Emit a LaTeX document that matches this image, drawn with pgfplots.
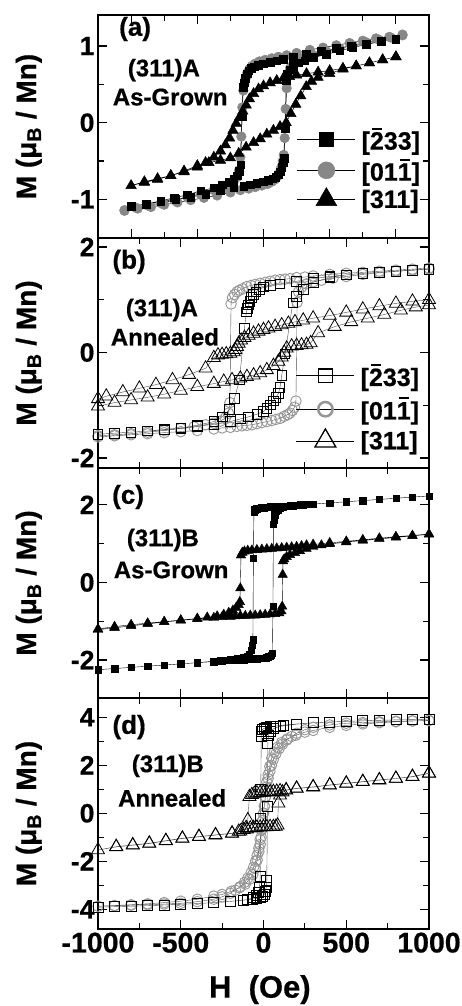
\documentclass[border=0pt]{standalone}
\usepackage{pgfplots}
\pgfplotsset{compat=1.18}
\usepackage{fontspec}
\setmainfont{Liberation Sans}[BoldFeatures={FakeBold=0.6}]
\newcommand\fs[1]{\fontsize{#1}{#1}\selectfont\bfseries}
\newcommand\ob[1]{\setbox0\hbox{#1}\rlap{\hbox to \wd0{\hfil\raisebox{0.80em}{\rule{0.40em}{0.08em}}\hfil}}#1}
\definecolor{cg}{RGB}{135,135,135}
\definecolor{cgo}{RGB}{150,150,150}
\pgfplotsset{
 panel/.style={
  scale only axis, width=331pt,
  xmin=-1000, xmax=1000,
  axis line style={line width=1.1pt},
  tick style={line width=1.1pt, black},
  major tick length=9pt, minor tick length=6pt,
  tick align=inside,
  yticklabel style={font=\fs{26.5}},
  xticklabel style={font=\fs{28.5}},
  ylabel={M (μ\textsubscript{B} / Mn)},
  every axis y label/.style={at={(axis description cs:-0.169,0.5)}, anchor=south, rotate=90, inner sep=0pt, font=\fs{28}},
  legend image code/.code={\draw[##1,mark=none] (0pt,0pt) -- (58pt,0pt); \draw[##1] plot coordinates {(29pt,0pt)};},
  legend style={draw=none, fill=none, inner sep=0pt, nodes={inner sep=2pt}, row sep=3.5pt, column sep=4pt, font=\fs{25}},
  legend cell align=left,
 },
 bx/.style={xtick={-1000,-500,0,500,1000}, minor xtick={-750,-250,250,750}},
}
\begin{document}
\begin{tikzpicture}
\path[use as bounding box] (-98pt,15pt) rectangle (363pt,-991pt);
% ---------------- (a)
\begin{axis}[panel, name=pa, at={(0pt,0pt)}, anchor=north west, height=223pt,
  ymin=-1.504, ymax=1.405, ytick={-1,0,1}, yticklabels={-1,0,1}, minor ytick={-0.5,0.5},
  xtick={-800,-400,0,400,800}, minor xtick={-600,-200,200,600}, xticklabels={},
  legend style={at={(rel axis cs:0.601,0.505)}, anchor=north west}]
\addplot[black, line width=0.5pt, mark=*, mark size=4.8pt, mark options={fill=cg, draw=cg}, forget plot] coordinates {
(840,1.15) (760,1.12) (680,1.10) (600,1.07) (520,1.04) (440,1.01) (360,0.98) (280,0.95) (200,0.91) (140,0.88) (90,0.86) (50,0.84) (10,0.82) (-25,0.80) (-50,0.77) (-70,0.74) (-85,0.70) (-98,0.65) (-108,0.58) (-116,0.50) (-122,0.42) (-128,0.20) (-134,-0.18) (-140,-0.45) (-148,-0.62) (-160,-0.71) (-180,-0.77) (-210,-0.81) (-250,-0.85) (-300,-0.88) (-380,-0.93) (-460,-0.97) (-540,-1.01) (-620,-1.05) (-700,-1.08) (-770,-1.11) (-840,-1.14)
(-840,-1.15) (-760,-1.12) (-680,-1.10) (-600,-1.07) (-520,-1.04) (-440,-1.01) (-360,-0.98) (-280,-0.95) (-200,-0.91) (-140,-0.88) (-90,-0.86) (-50,-0.84) (-10,-0.82) (25,-0.80) (50,-0.77) (70,-0.74) (85,-0.70) (98,-0.65) (108,-0.58) (116,-0.50) (122,-0.42) (128,-0.20) (134,0.18) (140,0.45) (148,0.62) (160,0.71) (180,0.77) (210,0.81) (250,0.85) (300,0.88) (380,0.93) (460,0.97) (540,1.01) (620,1.05) (700,1.08) (770,1.11) (840,1.14)};
\addplot[black, line width=0.5pt, mark=square*, mark size=3.8pt, forget plot] coordinates {
(800,1.09) (710,1.06) (620,1.03) (530,1.00) (440,0.97) (350,0.93) (260,0.89) (180,0.85) (120,0.83) (80,0.81) (40,0.79) (0,0.77) (-30,0.75) (-55,0.73) (-75,0.71) (-90,0.68) (-100,0.64) (-110,0.58) (-118,0.52) (-124,0.46) (-130,0.08) (-138,-0.55) (-145,-0.63) (-160,-0.69) (-180,-0.74) (-210,-0.78) (-250,-0.81) (-300,-0.85) (-380,-0.89) (-460,-0.94) (-540,-0.98) (-620,-1.02) (-710,-1.06) (-800,-1.09)
(-800,-1.09) (-710,-1.06) (-620,-1.03) (-530,-1.00) (-440,-0.97) (-350,-0.93) (-260,-0.89) (-180,-0.85) (-120,-0.83) (-80,-0.81) (-40,-0.79) (0,-0.77) (30,-0.75) (55,-0.73) (75,-0.71) (90,-0.68) (100,-0.64) (110,-0.58) (118,-0.52) (124,-0.46) (130,-0.08) (138,0.55) (145,0.63) (160,0.69) (180,0.74) (210,0.78) (250,0.81) (300,0.85) (380,0.89) (460,0.94) (540,0.98) (620,1.02) (710,1.06) (800,1.09)};
\addplot[black, line width=0.5pt, mark=triangle*, mark size=6pt, forget plot] coordinates {
(800,0.86) (720,0.82) (640,0.78) (560,0.74) (480,0.71) (400,0.68) (330,0.66) (260,0.64) (200,0.62) (157,0.60) (120,0.58) (80,0.55) (40,0.52) (0,0.48) (-30,0.44) (-60,0.38) (-85,0.31) (-105,0.23) (-125,0.15) (-145,0.07) (-165,-0.01) (-185,-0.10) (-205,-0.20) (-230,-0.29) (-260,-0.37) (-300,-0.45) (-350,-0.52) (-400,-0.58) (-480,-0.64) (-560,-0.69) (-640,-0.73) (-720,-0.77) (-800,-0.82)
(-720,-0.78) (-640,-0.74) (-560,-0.69) (-480,-0.63) (-400,-0.56) (-330,-0.52) (-260,-0.49) (-200,-0.46) (-150,-0.40) (-105,-0.32) (-60,-0.26) (-20,-0.21) (20,-0.15) (60,-0.10) (100,-0.05) (137,0.0) (165,0.12) (195,0.24) (225,0.35) (258,0.47) (290,0.54) (330,0.59) (400,0.64) (480,0.70) (560,0.74) (640,0.78) (720,0.82) (800,0.86)};
\addlegendimage{black, line width=0.5pt, mark=square*, mark size=6.8pt}
\addlegendentry{[\ob{2}33]}
\addlegendimage{black, line width=0.5pt, mark=*, mark size=8.5pt, mark options={fill=cg, draw=cg}}
\addlegendentry{[01\ob{1}]}
\addlegendimage{black, line width=0.5pt, mark=triangle*, mark size=12pt}
\addlegendentry{[311]}
\node[font=\fs{26}] at (rel axis cs:0.112,0.937) {(a)};
\node[font=\fs{24}] at (rel axis cs:0.199,0.753) {(311)A};
\node[font=\fs{24}] at (rel axis cs:0.218,0.632) {As-Grown};
\end{axis}
% ---------------- (b)
\begin{axis}[panel, bx, name=pb, at={(pa.south west)}, anchor=north west, height=230pt,
  ymin=-2.19, ymax=2.17, ytick={-2,0,2}, yticklabels={-2,0,2}, minor ytick={-1,1}, xticklabels={},
  legend style={at={(rel axis cs:0.598,0.462)}, anchor=north west, row sep=6pt}]
\addplot[black!70, line width=0.4pt, mark=o, mark size=5.3pt, mark options={draw=cgo, line width=0.9pt}, forget plot] coordinates {
(1000,1.60) (900,1.58) (800,1.56) (700,1.54) (600,1.52) (500,1.50) (400,1.48) (300,1.45) (250,1.43) (200,1.42) (160,1.40) (130,1.39) (100,1.38) (70,1.37) (40,1.35) (10,1.33) (-20,1.31) (-50,1.29) (-75,1.27) (-100,1.25) (-125,1.21) (-145,1.18) (-160,1.15) (-175,1.10) (-187,1.04) (-196,0.92) (-203,-0.95) (-212,-1.15) (-230,-1.24) (-260,-1.30) (-300,-1.34) (-350,-1.37) (-420,-1.41) (-500,-1.44) (-600,-1.48) (-700,-1.51) (-800,-1.54) (-900,-1.56) (-1000,-1.58)
(-1000,-1.60) (-900,-1.58) (-800,-1.56) (-700,-1.54) (-600,-1.52) (-500,-1.50) (-400,-1.48) (-300,-1.45) (-250,-1.43) (-200,-1.42) (-160,-1.40) (-130,-1.39) (-100,-1.38) (-70,-1.37) (-40,-1.35) (-10,-1.33) (20,-1.31) (50,-1.29) (75,-1.27) (100,-1.25) (125,-1.21) (145,-1.18) (160,-1.15) (175,-1.10) (187,-1.04) (196,-0.92) (203,0.95) (212,1.15) (230,1.24) (260,1.30) (300,1.34) (350,1.37) (420,1.41) (500,1.44) (600,1.48) (700,1.51) (800,1.54) (900,1.56) (1000,1.58)};
\addplot[black!70, line width=0.4pt, mark=square, mark size=4.8pt, mark options={draw=black, line width=0.8pt}, forget plot] coordinates {
(1000,1.58) (900,1.56) (800,1.54) (700,1.52) (600,1.50) (500,1.47) (400,1.44) (300,1.40) (200,1.35) (100,1.30) (40,1.27) (0,1.24) (-25,1.20) (-45,1.15) (-60,1.10) (-72,1.04) (-82,0.97) (-90,0.90) (-97,0.83) (-103,0.77) (-115,0.46) (-145,-0.52) (-175,-0.87) (-205,-1.08) (-250,-1.22) (-300,-1.31) (-400,-1.38) (-500,-1.43) (-600,-1.46) (-700,-1.49) (-800,-1.51) (-900,-1.53) (-1000,-1.55)
(-900,-1.53) (-800,-1.51) (-700,-1.49) (-600,-1.47) (-500,-1.44) (-400,-1.40) (-300,-1.36) (-200,-1.31) (-140,-1.26) (-90,-1.22) (-40,-1.17) (0,-1.12) (20,-1.06) (40,-0.99) (60,-0.92) (75,-0.85) (90,-0.78) (100,-0.66) (110,-0.44) (130,-0.03) (177,0.94) (198,1.06) (240,1.20) (300,1.33) (400,1.42) (500,1.47) (600,1.50) (700,1.52) (800,1.54) (900,1.56) (1000,1.58)};
\addplot[black!70, line width=0.4pt, mark=triangle, mark size=7.5pt, mark options={draw=black, line width=0.8pt}, forget plot] coordinates {
(1000,1.00) (900,0.97) (800,0.93) (700,0.88) (600,0.82) (500,0.76) (400,0.70) (300,0.65) (240,0.61) (190,0.58) (150,0.55) (110,0.52) (70,0.49) (30,0.46) (0,0.43) (-30,0.40) (-60,0.36) (-90,0.32) (-115,0.28) (-135,0.23) (-150,0.17) (-160,0.11) (-170,0.05) (-180,0.01) (-200,-0.02) (-225,-0.03) (-250,-0.04) (-275,-0.05) (-300,-0.10) (-350,-0.30) (-450,-0.42) (-550,-0.52) (-650,-0.61) (-750,-0.68) (-850,-0.75) (-950,-0.83) (-1000,-0.88)
(-1000,-1.02) (-900,-0.95) (-800,-0.90) (-700,-0.85) (-600,-0.79) (-500,-0.72) (-400,-0.65) (-300,-0.59) (-240,-0.55) (-190,-0.52) (-140,-0.49) (-100,-0.46) (-60,-0.43) (-20,-0.39) (20,-0.33) (60,-0.25) (90,-0.17) (110,-0.09) (125,0.0) (140,0.08) (170,0.12) (200,0.13) (230,0.14) (260,0.15) (285,0.18) (330,0.37) (430,0.49) (530,0.58) (630,0.65) (730,0.72) (830,0.80) (920,0.86) (1000,0.90)};
\addlegendimage{black, line width=0.5pt, mark=square, mark size=6.8pt, mark options={line width=1.3pt}}
\addlegendentry{[\ob{2}33]}
\addlegendimage{black, line width=0.5pt, mark=o, mark size=7.2pt, mark options={draw=cgo, line width=2.5pt}}
\addlegendentry{[01\ob{1}]}
\addlegendimage{black, line width=0.5pt, mark=triangle, mark size=12pt, mark options={line width=1.3pt}}
\addlegendentry{[311]}
\node[font=\fs{26}] at (rel axis cs:0.094,0.896) {(b)};
\node[font=\fs{24}] at (rel axis cs:0.193,0.687) {(311)A};
\node[font=\fs{24}] at (rel axis cs:0.202,0.570) {Annealed};
\end{axis}
% ---------------- (c)
\begin{axis}[panel, bx, name=pc, at={(pb.south west)}, anchor=north west, height=230pt,
  ymin=-2.98, ymax=2.95, ytick={-2,0,2}, yticklabels={-2,0,2}, minor ytick={-1,1}, xticklabels={}]
\addplot[black, line width=0.4pt, mark=square*, mark size=3.2pt, forget plot] coordinates {
(1000,2.23) (900,2.20) (800,2.17) (700,2.14) (600,2.11) (500,2.08) (400,2.05) (300,2.02) (270,2.01) (240,2.00) (220,1.99) (200,1.99) (180,1.98) (160,1.98) (140,1.97) (120,1.97) (100,1.96) (80,1.96) (60,1.95) (40,1.95) (20,1.94) (0,1.93) (-15,1.93) (-30,1.92) (-42,1.90) (-52,1.87) (-58,1.82) (-61,0.63) (-64,-1.48) (-68,-1.62) (-75,-1.75) (-85,-1.85) (-100,-1.91) (-120,-1.94) (-140,-1.96) (-160,-1.97) (-180,-1.98) (-200,-1.99) (-230,-2.00) (-260,-2.02) (-300,-2.03) (-400,-2.07) (-500,-2.10) (-600,-2.13) (-700,-2.16) (-800,-2.19) (-900,-2.22) (-1000,-2.25)
(-900,-2.22) (-800,-2.19) (-700,-2.16) (-600,-2.13) (-500,-2.10) (-400,-2.07) (-300,-2.04) (-250,-2.02) (-200,-2.01) (-180,-2.00) (-160,-2.00) (-140,-1.99) (-120,-1.99) (-100,-1.98) (-80,-1.98) (-60,-1.97) (-40,-1.97) (-20,-1.96) (0,-1.95) (15,-1.94) (30,-1.92) (40,-1.90) (48,-1.87) (54,-1.82) (57,-0.62) (60,1.50) (63,1.62) (68,1.75) (75,1.83) (85,1.88) (100,1.92) (120,1.95) (140,1.97) (160,1.98) (190,1.99) (220,2.00) (260,2.01) (300,2.02) (400,2.05) (500,2.08) (600,2.11) (700,2.14) (800,2.17) (900,2.20) (1000,2.23)};
\addplot[black, line width=0.4pt, mark=triangle*, mark size=5.5pt, forget plot] coordinates {
(1000,1.25) (900,1.21) (800,1.18) (700,1.14) (600,1.10) (500,1.06) (400,1.02) (300,0.98) (260,0.96) (230,0.94) (200,0.92) (170,0.91) (140,0.90) (110,0.89) (80,0.88) (50,0.87) (20,0.86) (-10,0.85) (-40,0.84) (-70,0.83) (-95,0.82) (-115,0.80) (-128,0.77) (-136,0.70) (-140,-0.15) (-143,-0.50) (-150,-0.58) (-165,-0.65) (-185,-0.72) (-210,-0.78) (-240,-0.83) (-280,-0.87) (-340,-0.90) (-400,-0.93) (-500,-0.97) (-600,-1.01) (-700,-1.05) (-800,-1.09) (-900,-1.14) (-1000,-1.20)
(-1000,-1.22) (-900,-1.17) (-800,-1.12) (-700,-1.07) (-600,-1.02) (-500,-0.98) (-400,-0.94) (-300,-0.91) (-250,-0.89) (-200,-0.88) (-170,-0.87) (-140,-0.86) (-110,-0.86) (-80,-0.85) (-50,-0.85) (-20,-0.84) (10,-0.83) (40,-0.82) (70,-0.81) (95,-0.79) (108,-0.74) (113,-0.62) (116,0.20) (118,0.55) (125,0.60) (140,0.66) (160,0.71) (190,0.76) (220,0.81) (260,0.87) (300,0.92) (350,0.96) (400,0.99) (500,1.04) (600,1.08) (700,1.12) (800,1.16) (900,1.20) (1000,1.24)};
\node[font=\fs{26}] at (rel axis cs:0.091,0.874) {(c)};
\node[font=\fs{24}] at (rel axis cs:0.196,0.687) {(311)B};
\node[font=\fs{24}] at (rel axis cs:0.221,0.557) {As-Grown};
\end{axis}
% ---------------- (d)
\begin{axis}[panel, bx, name=pd, at={(pc.south west)}, anchor=north west, height=231pt,
  ymin=-4.82, ymax=4.8, ytick={-4,-2,0,2,4}, yticklabels={-4,-2,0,2,4}, minor ytick={-3,-1,1,3},
  xticklabels={-1000,-500,0,500,1000},
  xlabel={H\ \ (Oe)},
  every axis x label/.style={at={(axis description cs:0.489,-0.199)}, anchor=north, inner sep=0pt, font=\fs{31}}]
\addplot[black!70, line width=0.4pt, mark=o, mark size=5.3pt, mark options={draw=cgo, line width=0.9pt}, forget plot] coordinates {
(1000,3.86) (900,3.85) (800,3.83) (700,3.81) (600,3.78) (500,3.75) (400,3.68) (300,3.58) (250,3.48) (200,3.33) (170,3.20) (140,3.05) (115,2.88) (95,2.70) (75,2.48) (60,2.25) (48,2.00) (38,1.75) (28,1.45) (20,1.10) (12,0.70) (5,0.30) (0,0.00) (-5,-0.30) (-10,-0.65) (-15,-1.00) (-20,-1.30) (-28,-1.60) (-38,-1.95) (-50,-2.30) (-65,-2.55) (-85,-2.75) (-110,-2.95) (-145,-3.10) (-195,-3.25) (-250,-3.38) (-300,-3.45) (-400,-3.58) (-500,-3.66) (-600,-3.72) (-700,-3.77) (-800,-3.81) (-900,-3.84) (-1000,-3.87)
(-900,-3.85) (-800,-3.83) (-700,-3.81) (-600,-3.78) (-500,-3.75) (-400,-3.68) (-300,-3.58) (-250,-3.48) (-200,-3.33) (-170,-3.20) (-140,-3.05) (-115,-2.88) (-95,-2.70) (-75,-2.48) (-60,-2.25) (-48,-2.00) (-38,-1.75) (-28,-1.45) (-20,-1.10) (-12,-0.70) (-5,-0.30) (0,0.00) (5,0.30) (10,0.65) (15,1.00) (20,1.30) (28,1.60) (38,1.95) (50,2.30) (65,2.55) (85,2.75) (110,2.95) (145,3.10) (195,3.25) (250,3.38) (300,3.45) (400,3.58) (500,3.66) (600,3.72) (700,3.77) (800,3.81) (900,3.84) (1000,3.87)};
\addplot[black!70, line width=0.4pt, mark=square, mark size=5pt, mark options={draw=black, line width=0.8pt}, forget plot] coordinates {
(1000,3.92) (900,3.90) (800,3.89) (700,3.87) (600,3.85) (500,3.83) (400,3.80) (300,3.77) (200,3.72) (120,3.67) (70,3.63) (40,3.60) (20,3.57) (5,3.54) (-5,3.50) (-10,3.43) (-14,3.20) (-16,1.00) (-18,-0.20) (-20,-2.64) (-24,-3.10) (-30,-3.30) (-40,-3.42) (-60,-3.52) (-100,-3.60) (-200,-3.67) (-300,-3.72) (-400,-3.76) (-500,-3.79) (-600,-3.82) (-700,-3.85) (-800,-3.87) (-900,-3.89) (-1000,-3.91)
(-900,-3.89) (-800,-3.87) (-700,-3.85) (-600,-3.82) (-500,-3.79) (-400,-3.76) (-300,-3.72) (-200,-3.67) (-120,-3.62) (-70,-3.58) (-40,-3.54) (-20,-3.50) (-5,-3.45) (5,-3.38) (12,-3.25) (16,-3.10) (20,-2.80) (24,0.27) (26,2.90) (30,3.25) (40,3.42) (60,3.52) (100,3.62) (200,3.71) (300,3.77) (400,3.80) (500,3.83) (600,3.85) (700,3.87) (800,3.89) (900,3.90) (1000,3.92)};
\addplot[black!70, line width=0.4pt, mark=triangle, mark size=7.5pt, mark options={draw=black, line width=0.8pt}, forget plot] coordinates {
(1000,1.67) (900,1.53) (800,1.45) (700,1.39) (600,1.32) (500,1.25) (400,1.18) (300,1.10) (200,1.04) (137,0.97) (100,0.93) (80,0.91) (60,0.90) (40,0.89) (20,0.88) (0,0.87) (-20,0.86) (-40,0.84) (-55,0.82) (-70,0.77) (-85,0.69) (-95,-0.28) (-105,-0.60) (-120,-0.68) (-150,-0.76) (-190,-0.83) (-290,-0.90) (-390,-0.97) (-490,-1.04) (-590,-1.14) (-690,-1.25) (-790,-1.32) (-890,-1.39) (-1000,-1.53)
(-890,-1.40) (-790,-1.33) (-690,-1.26) (-590,-1.15) (-490,-1.05) (-390,-0.98) (-290,-0.91) (-190,-0.84) (-140,-0.75) (-100,-0.66) (-80,-0.62) (-60,-0.60) (-40,-0.59) (-20,-0.58) (0,-0.57) (20,-0.57) (40,-0.56) (60,-0.56) (75,-0.55) (85,-0.50) (90,0.42) (100,0.75) (115,0.88) (137,0.96) (200,1.03) (300,1.09) (400,1.17) (500,1.24) (600,1.31) (700,1.38) (800,1.45) (900,1.52) (1000,1.66)};
\node[font=\fs{26}] at (rel axis cs:0.094,0.874) {(d)};
\node[font=\fs{24}] at (rel axis cs:0.211,0.706) {(311)B};
\node[font=\fs{24}] at (rel axis cs:0.224,0.567) {Annealed};
\end{axis}
\end{tikzpicture}
\end{document}
